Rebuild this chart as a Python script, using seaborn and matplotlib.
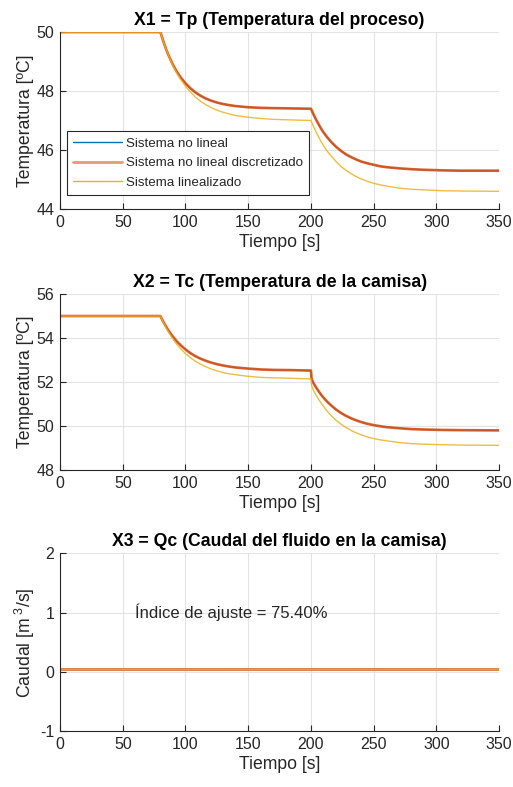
import numpy as np
import pandas as pd
import matplotlib
matplotlib.use("Agg")
import matplotlib.pyplot as plt
import seaborn as sns

# ---------------- data ----------------
t_tp = [0, 80, 82, 84, 86, 88, 90, 93, 96, 100, 104, 108, 112, 116, 120, 125, 130, 135, 140,
        150, 160, 170, 185, 200,
        202, 204, 206, 208, 210, 213, 216, 220, 224, 228, 232, 236, 240, 245, 250, 255, 260,
        270, 280, 290, 305, 320, 350]
tp_nl = [50, 50, 49.73, 49.48, 49.26, 49.07, 48.89, 48.66, 48.47, 48.26, 48.09, 47.95, 47.84,
         47.75, 47.68, 47.61, 47.56, 47.52, 47.49, 47.45, 47.43, 47.42, 47.41, 47.40,
         47.21, 47.04, 46.88, 46.73, 46.60, 46.43, 46.28, 46.11, 45.97, 45.85, 45.76, 45.68,
         45.61, 45.55, 45.50, 45.45, 45.42, 45.38, 45.35, 45.33, 45.31, 45.30, 45.30]
tp_disc = [50, 50, 49.73, 49.48, 49.26, 49.07, 48.89, 48.66, 48.47, 48.26, 48.09, 47.95, 47.84,
           47.75, 47.68, 47.61, 47.56, 47.52, 47.49, 47.45, 47.43, 47.42, 47.41, 47.40,
           47.21, 47.04, 46.88, 46.73, 46.60, 46.43, 46.28, 46.11, 45.97, 45.85, 45.76, 45.68,
           45.61, 45.55, 45.50, 45.45, 45.42, 45.38, 45.35, 45.33, 45.31, 45.30, 45.30]
tp_lin = [50, 50, 49.73, 49.48, 49.26, 49.05, 48.86, 48.61, 48.40, 48.16, 47.96, 47.79, 47.65,
          47.54, 47.45, 47.35, 47.28, 47.22, 47.17, 47.11, 47.07, 47.04, 47.02, 47.00,
          46.80, 46.62, 46.45, 46.29, 46.15, 45.96, 45.80, 45.61, 45.44, 45.31, 45.20, 45.10,
          45.02, 44.94, 44.87, 44.82, 44.78, 44.71, 44.67, 44.65, 44.62, 44.61, 44.60]

t_tc = [0, 80, 82, 84, 86, 88, 90, 93, 96, 100, 104, 108, 112, 116, 120, 125, 130, 135, 140,
        150, 160, 170, 185, 200, 200.5,
        202, 204, 206, 208, 210, 213, 216, 220, 224, 228, 232, 236, 240, 245, 250, 255, 260,
        270, 280, 290, 305, 320, 350]
tc_nl = [55, 55, 54.77, 54.57, 54.38, 54.21, 54.06, 53.85, 53.68, 53.48, 53.31, 53.17, 53.06,
         52.97, 52.89, 52.81, 52.75, 52.70, 52.66, 52.61, 52.57, 52.55, 52.54, 52.52, 52.15,
         51.95, 51.76, 51.59, 51.43, 51.29, 51.10, 50.94, 50.75, 50.59, 50.46, 50.35, 50.26,
         50.18, 50.10, 50.04, 49.99, 49.95, 49.90, 49.86, 49.84, 49.82, 49.81, 49.80]
tc_disc = [55, 55, 54.77, 54.57, 54.38, 54.21, 54.06, 53.85, 53.68, 53.48, 53.31, 53.17, 53.06,
           52.97, 52.89, 52.81, 52.75, 52.70, 52.66, 52.61, 52.57, 52.55, 52.54, 52.52, 52.15,
           51.95, 51.76, 51.59, 51.43, 51.29, 51.10, 50.94, 50.75, 50.59, 50.46, 50.35, 50.26,
           50.18, 50.10, 50.04, 49.99, 49.95, 49.90, 49.86, 49.84, 49.82, 49.81, 49.80]
tc_lin = [55, 55, 54.75, 54.53, 54.32, 54.13, 53.96, 53.72, 53.52, 53.29, 53.10, 52.94, 52.81,
          52.70, 52.60, 52.51, 52.43, 52.37, 52.33, 52.26, 52.21, 52.19, 52.17, 52.14, 51.85,
          51.62, 51.41, 51.22, 51.05, 50.89, 50.67, 50.48, 50.26, 50.08, 49.93, 49.80, 49.69,
          49.60, 49.50, 49.43, 49.37, 49.33, 49.25, 49.20, 49.17, 49.15, 49.13, 49.12]

t_qc = [0, 350]
qc_nl = [0.05, 0.05]
qc_disc = [0.05, 0.05]
qc_lin = [0.05, 0.05]

series_names = ["Sistema no lineal", "Sistema no lineal discretizado", "Sistema linealizado"]
titles = ["X1 = Tp (Temperatura del proceso)",
          "X2 = Tc (Temperatura de la camisa)",
          "X3 = Qc (Caudal del fluido en la camisa)"]
ylabels = ["Temperatura [ºC]", "Temperatura [ºC]", "Caudal [m$^{\\ 3}$/s]"]
xticks = [0, 50, 100, 150, 200, 250, 300, 350]
yticks_list = [[44, 46, 48, 50], [48, 50, 52, 54, 56], [-1, 0, 1, 2]]
ylims = [(44, 50), (48, 56), (-1, 2)]
annotation = "Índice de ajuste = 75.40%"

# ---------------- style ----------------
sns.set_theme(style="whitegrid")
plt.rcParams["font.family"] = ["Liberation Sans", "DejaVu Sans"]
plt.rcParams["axes.unicode_minus"] = False
plt.rcParams["mathtext.fontset"] = "custom"
plt.rcParams["mathtext.rm"] = "Liberation Sans"
plt.rcParams["mathtext.it"] = "Liberation Sans"

colors = ["#0072BD", "#D95319", "#EDB120"]
widths = [0.8, 1.9, 1.0]
alphas = [1.0, 0.92, 0.85]

fig = plt.figure(figsize=(5.13, 7.87), dpi=100)
positions = [
    [0.117, 0.7344, 0.856, 0.2249],
    [0.117, 0.4028, 0.856, 0.2236],
    [0.117, 0.0711, 0.856, 0.2258],
]

data_sets = [
    (t_tp, [tp_nl, tp_disc, tp_lin]),
    (t_tc, [tc_nl, tc_disc, tc_lin]),
    (t_qc, [qc_nl, qc_disc, qc_lin]),
]

axes = []
for i, (pos, (tt, ys)) in enumerate(zip(positions, data_sets)):
    ax = fig.add_axes(pos)
    axes.append(ax)
    for j, y in enumerate(ys):
        df = pd.DataFrame({"t": tt, "y": y})
        sns.lineplot(data=df, x="t", y="y", ax=ax, color=colors[j],
                     linewidth=widths[j], alpha=alphas[j], label=series_names[j],
                     legend=False)
    ax.set_xlim(0, 350)
    ax.set_ylim(*ylims[i])
    ax.set_xticks(xticks)
    ax.set_yticks(yticks_list[i])
    ax.set_facecolor("white")
    ax.grid(True, color="#E3E3E3", linewidth=0.8)
    for s in ["top", "right"]:
        ax.spines[s].set_visible(False)
    for s in ["left", "bottom"]:
        ax.spines[s].set_visible(True)
        ax.spines[s].set_color("#262626")
        ax.spines[s].set_linewidth(0.8)
    ax.tick_params(axis="both", which="both", direction="in", length=4,
                   width=0.8, color="#262626", labelsize=11.5,
                   labelcolor="#262626", bottom=True, left=True, pad=4)
    ax.set_xlabel("Tiempo [s]", fontsize=12.7, color="#262626", labelpad=3)
    ax.set_ylabel(ylabels[i], fontsize=12.7, color="#262626", labelpad=2)
    ax.set_title(titles[i], fontsize=12.7, fontweight="bold", color="black", pad=5)

# legend on the first axes
ax0 = axes[0]
handles, labels = ax0.get_legend_handles_labels()
leg = ax0.legend(handles, labels, loc="lower left", bbox_to_anchor=(0.016, 0.079),
                 fontsize=9.6, frameon=True, fancybox=False, framealpha=1,
                 edgecolor="#262626", handlelength=3.7, handletextpad=0.3,
                 borderpad=0.45, labelspacing=0.55, borderaxespad=0)
leg.get_frame().set_linewidth(0.8)
leg_lines = leg.get_lines()
leg_lines[0].set_linewidth(1.0)
leg_lines[1].set_linewidth(2.0)
leg_lines[1].set_alpha(0.6)
leg_lines[2].set_linewidth(1.0)
leg_lines[2].set_alpha(1.0)

axes[2].text(60, 1, annotation, fontsize=12, color="#262626", ha="left", va="center")

fig.savefig("out.png", dpi=100)
